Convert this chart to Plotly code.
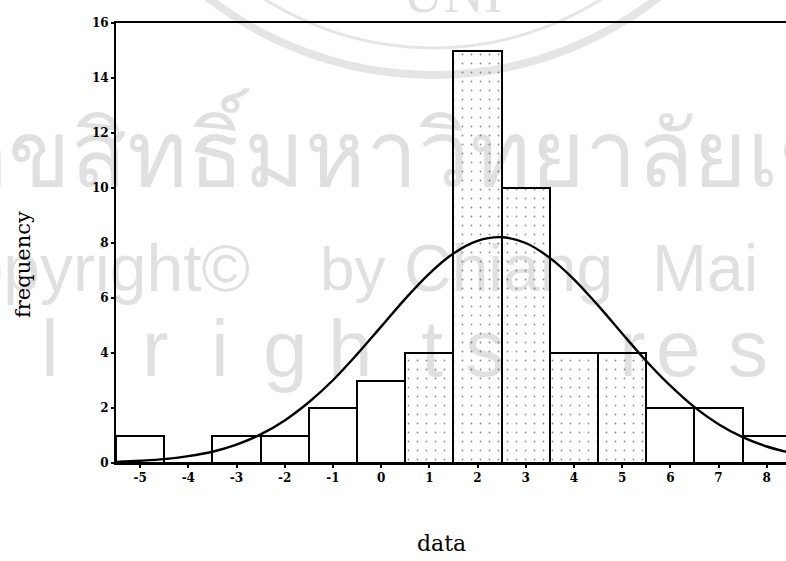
import plotly.graph_objects as go

# ---- data ----
bin_centers = [-5, -4, -3, -2, -1, 0, 1, 2, 3, 4, 5, 6, 7, 8]
frequencies = [1, 0, 1, 1, 2, 3, 4, 15, 10, 4, 4, 2, 2, 1]
stippled = [False, False, False, False, False, False, True, True, True, True, True, False, False, False]

curve_x = [-5.5, -5, -4.5, -4, -3.5, -3, -2.5, -2, -1.5, -1, -0.5, 0, 0.5, 1, 1.5,
           2, 2.5, 3, 3.5, 4, 4.5, 5, 5.5, 6, 6.5, 7, 7.5, 8, 8.5]
curve_y = [0.04, 0.08, 0.14, 0.25, 0.41, 0.67, 1.04, 1.55, 2.21, 3.01, 3.95, 4.96, 5.97, 6.89, 7.62,
           8.08, 8.21, 8.00, 7.46, 6.68, 5.73, 4.71, 3.71, 2.81, 2.03, 1.41, 0.94, 0.60, 0.37]

x_ticks = [-5, -4, -3, -2, -1, 0, 1, 2, 3, 4, 5, 6, 7, 8]
y_ticks = [0, 2, 4, 6, 8, 10, 12, 14, 16]

# ---- layout geometry (pixels) ----
W, H = 786, 561
L, R, T, B = 116, 0, 23, 98
PW, PH = W - L - R, H - T - B


def px(x):
    return (x - L) / PW


def py(y):
    return (H - B - y) / PH


SERIF = "DejaVu Serif, Liberation Serif, serif"
WM = "rgba(0,0,0,0.12)"

fig = go.Figure()

fig.add_trace(go.Bar(
    x=bin_centers, y=frequencies, width=1,
    marker=dict(
        color="rgba(255,255,255,0)",
        line=dict(color="black", width=2),
        pattern=dict(shape=["." if s else "" for s in stippled],
                     fgcolor="black", fgopacity=0.45, size=9, solidity=0.03),
    ),
    showlegend=False, hoverinfo="x+y",
))

fig.add_trace(go.Scatter(
    x=curve_x, y=curve_y, mode="lines",
    line=dict(color="black", width=2.4, shape="spline"),
    showlegend=False, cliponaxis=True,
))

annotations = [
    dict(text="frequency", x=px(23), y=py(265), xref="paper", yref="paper",
         xanchor="center", yanchor="middle",
         textangle=-90, showarrow=False, font=dict(family=SERIF, size=21, color="black")),
    dict(text="data", x=px(441), y=py(543), xref="paper", yref="paper",
         xanchor="center", yanchor="middle",
         showarrow=False, font=dict(family=SERIF, size=22, color="black")),
]

# watermark (light grey, scanned-page copyright text)
wm_rows = [
    ("ลิขสิทธิ์มหาวิทยาลัยเชียงใหม่", -50, 150, 92, "left", "Noto Sans, sans-serif"),
    ("Copyright©", 252, 268, 66, "right", "Liberation Sans, sans-serif"),
    ("by", 318, 268, 62, "left", "Liberation Sans, sans-serif"),
    ("Chiang", 402, 268, 66, "left", "Liberation Sans, sans-serif"),
    ("Mai", 650, 268, 66, "left", "Liberation Sans, sans-serif"),
    ("UNI", 453, -7, 56, "center", "Liberation Serif, serif"),
]
for txt, x, y, s, anc, fam in wm_rows:
    annotations.append(dict(text=txt, x=px(x), y=py(y), xref="paper", yref="paper",
                            xanchor=anc, yanchor="middle", showarrow=False,
                            font=dict(family=fam, size=s, color=WM)))

wm_letters = [("l", 50), ("r", 155), ("i", 220), ("g", 285), ("h", 350), ("t", 432),
              ("s", 485), ("r", 632), ("e", 678), ("s", 748)]
for ch, x in wm_letters:
    annotations.append(dict(text=ch, x=px(x), y=py(348), xref="paper", yref="paper",
                            xanchor="center", yanchor="middle", showarrow=False,
                            font=dict(family="Liberation Sans, sans-serif", size=80, color=WM)))

shapes = [
    dict(type="circle", xref="paper", yref="paper",
         x0=px(67), x1=px(799), y0=py(75), y1=py(-657),
         line=dict(color="rgba(0,0,0,0.10)", width=8)),
    dict(type="circle", xref="paper", yref="paper",
         x0=px(119), x1=px(747), y0=py(48), y1=py(-580),
         line=dict(color="rgba(0,0,0,0.10)", width=3)),
]

fig.update_layout(
    width=W, height=H,
    margin=dict(l=L, r=R, t=T, b=B),
    paper_bgcolor="white", plot_bgcolor="white",
    bargap=0,
    annotations=annotations,
    shapes=shapes,
    xaxis=dict(
        range=[-5.5, 8.4], tickmode="array", tickvals=x_ticks,
        ticktext=[str(v) for v in x_ticks],
        showgrid=False, zeroline=False,
        showline=True, linecolor="black", linewidth=2, mirror=True,
        ticks="outside", ticklen=3, tickwidth=2, tickcolor="black",
        tickfont=dict(family=SERIF, size=12, color="black", weight="bold"),
    ),
    yaxis=dict(
        range=[0, 16], tickmode="array", tickvals=y_ticks,
        ticktext=[str(v) for v in y_ticks],
        showgrid=False, zeroline=False,
        showline=True, linecolor="black", linewidth=2,
        ticks="outside", ticklen=3, tickwidth=2, tickcolor="black",
        tickfont=dict(family=SERIF, size=12, color="black", weight="bold"),
    ),
)

fig.write_html("out.html")
